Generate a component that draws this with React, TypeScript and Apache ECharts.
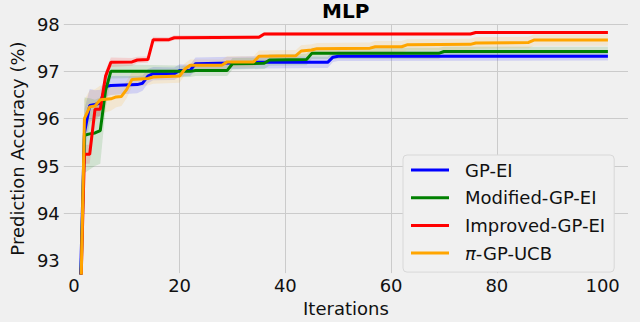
import React, { useEffect, useRef } from "react";
import * as echarts from "echarts";

// ---- data (iteration, mean accuracy %, band half-width) ----
const seriesNames = ["GP-EI", "Modified-GP-EI", "Improved-GP-EI", "π-GP-UCB"];
const seriesColors = ["#0000ff", "#008000", "#ff0000", "#ffa500"];

const gpEiX = [1, 2, 3, 4, 5, 6, 7, 12, 13, 14, 15, 19, 20, 22, 23, 35, 48, 49, 50, 101];
const gpEiY = [91.5, 95.7, 96.28, 96.3, 96.33, 96.68, 96.7, 96.72, 96.75, 96.9, 96.95, 96.95, 97.02, 97.02, 97.16, 97.19, 97.19, 97.3, 97.32, 97.32];
const gpEiS = [0.5, 0.5, 0.35, 0.3, 0.28, 0.22, 0.2, 0.18, 0.16, 0.15, 0.14, 0.13, 0.13, 0.12, 0.13, 0.13, 0.12, 0.1, 0.1, 0.09];

const modX = [1, 2, 3, 4, 5, 6, 7, 22, 23, 29, 30, 36, 37, 44, 45, 69, 70, 101];
const modY = [91.0, 95.65, 95.68, 95.7, 95.75, 96.6, 97.0, 97.0, 97.02, 97.02, 97.16, 97.17, 97.24, 97.25, 97.38, 97.38, 97.42, 97.42];
const modS = [0.8, 0.8, 0.75, 0.7, 0.7, 0.4, 0.15, 0.12, 0.12, 0.12, 0.12, 0.12, 0.12, 0.12, 0.12, 0.12, 0.1, 0.1];

const impX = [1, 2, 3, 4, 5, 6, 7, 11, 12, 14, 15, 18, 19, 35, 36, 75, 76, 101];
const impY = [91.0, 95.25, 95.25, 96.2, 96.2, 96.9, 97.19, 97.2, 97.24, 97.25, 97.67, 97.67, 97.71, 97.72, 97.79, 97.79, 97.82, 97.82];
const impS = [0.3, 0.2, 0.2, 0.15, 0.15, 0.12, 0.1, 0.08, 0.07, 0.07, 0.06, 0.05, 0.05, 0.04, 0.04, 0.03, 0.03, 0.03];

const ucbX = [1, 2, 3, 4, 5, 7, 8, 9, 10, 11, 14, 15, 20, 21, 22, 28, 29, 34, 35, 42, 43, 45, 46, 56, 57, 62, 63, 75, 76, 86, 87, 101];
const ucbY = [90.5, 96.0, 96.25, 96.27, 96.4, 96.42, 96.46, 96.47, 96.62, 96.83, 96.85, 96.88, 96.9, 97.05, 97.13, 97.13, 97.2, 97.2, 97.32, 97.33, 97.43, 97.45, 97.48, 97.49, 97.52, 97.52, 97.56, 97.57, 97.6, 97.61, 97.66, 97.66];
const ucbS = [0.4, 0.4, 0.35, 0.35, 0.3, 0.25, 0.22, 0.2, 0.18, 0.15, 0.15, 0.14, 0.14, 0.12, 0.12, 0.12, 0.12, 0.12, 0.12, 0.12, 0.12, 0.12, 0.12, 0.12, 0.12, 0.12, 0.12, 0.12, 0.12, 0.12, 0.12, 0.12];

const xTicks = [0, 20, 40, 60, 80, 100];
const yTicks = [93, 94, 95, 96, 97, 98];

const allX = [gpEiX, modX, impX, ucbX];
const allY = [gpEiY, modY, impY, ucbY];
const allS = [gpEiS, modS, impS, ucbS];

const FONT = "DejaVu Sans";

export default function App() {
  const ref = useRef<HTMLDivElement>(null);
  useEffect(() => {
    if (!ref.current) return;
    const chart = echarts.init(ref.current, undefined, { renderer: "svg" });

    const bandSeries: any[] = [];
    const lineSeries: any[] = [];
    seriesNames.forEach((name, k) => {
      const xs = allX[k];
      const ys = allY[k];
      const ss = allS[k];
      const bandData = xs.map((x, i) => [x, ys[i] - ss[i], ys[i] + ss[i]]);
      bandSeries.push({
        name: name + " band",
        type: "custom",
        data: bandData,
        encode: { x: 0, y: [1, 2] },
        silent: true,
        z: 1,
        renderItem: (params: any, api: any) => {
          if (params.dataIndex !== 0) return null;
          const upper = bandData.map((d) => api.coord([d[0], d[2]]));
          const lower = bandData.map((d) => api.coord([d[0], d[1]])).reverse();
          const cs = params.coordSys;
          return {
            type: "polygon",
            shape: { points: upper.concat(lower) },
            style: { fill: seriesColors[k], opacity: 0.13 },
            clipPath: { type: "rect", shape: { x: cs.x, y: cs.y, width: cs.width, height: cs.height } },
          };
        },
      });
      lineSeries.push({
        name,
        type: "line",
        data: xs.map((x, i) => [x, ys[i]]),
        symbol: "none",
        color: seriesColors[k],
        lineStyle: { width: 3, color: seriesColors[k] },
        z: 3 + k,
      });
    });

    chart.setOption({
      animation: false,
      backgroundColor: "#f0f0f0",
      title: {
        text: "MLP",
        left: 322,
        top: 1,
        padding: 0,
        textStyle: { fontFamily: FONT, fontSize: 20, fontWeight: "bold", color: "#000" },
      },
      grid: { left: 62, right: 12, top: 24, bottom: 42 },
      legend: {
        data: seriesNames,
        orient: "vertical",
        left: 403,
        top: 155,
        icon: "rect",
        itemWidth: 38,
        itemHeight: 3,
        itemGap: 9.7,
        padding: [6, 9, 10, 8],
        backgroundColor: "#f0f0f0",
        borderColor: "#d8d8d8",
        borderWidth: 1,
        borderRadius: 4,
        formatter: (n: string) => (n.startsWith("π") ? "{i|π}" + n.slice(1) : n),
        textStyle: {
          fontFamily: FONT,
          fontSize: 18,
          lineHeight: 18,
          color: "#111",
          padding: [0, 0, 0, 11],
          rich: { i: { fontFamily: FONT, fontSize: 18, fontStyle: "italic", color: "#111" } },
        },
      },
      xAxis: {
        type: "value",
        min: -1.9,
        max: 104.8,
        name: "Iterations",
        nameLocation: "middle",
        nameGap: 21,
        nameTextStyle: { fontFamily: FONT, fontSize: 18, color: "#111" },
        axisLine: { show: false },
        axisTick: { show: false, customValues: xTicks },
        axisLabel: { customValues: xTicks, fontFamily: FONT, fontSize: 18, color: "#111", margin: 3 },
        splitLine: { show: true, showMinLine: false, showMaxLine: false, lineStyle: { color: "#cbcbcb", width: 1 } },
      },
      yAxis: {
        type: "value",
        min: 92.74,
        max: 98,
        name: "Prediction Accuracy (%)",
        nameLocation: "middle",
        nameGap: 31,
        nameTextStyle: { fontFamily: FONT, fontSize: 18, color: "#111" },
        axisLine: { show: false },
        axisTick: { show: false, customValues: yTicks },
        axisLabel: { customValues: yTicks, fontFamily: FONT, fontSize: 18, color: "#111", margin: 4 },
        splitLine: { show: true, showMinLine: false, showMaxLine: true, lineStyle: { color: "#cbcbcb", width: 1 } },
      },
      series: [...bandSeries, ...lineSeries],
    });

    return () => chart.dispose();
  }, []);

  return (
    <div
      ref={ref}
      style={{ position: "fixed", left: 0, top: 0, width: 640, height: 322, background: "#f0f0f0" }}
    />
  );
}
